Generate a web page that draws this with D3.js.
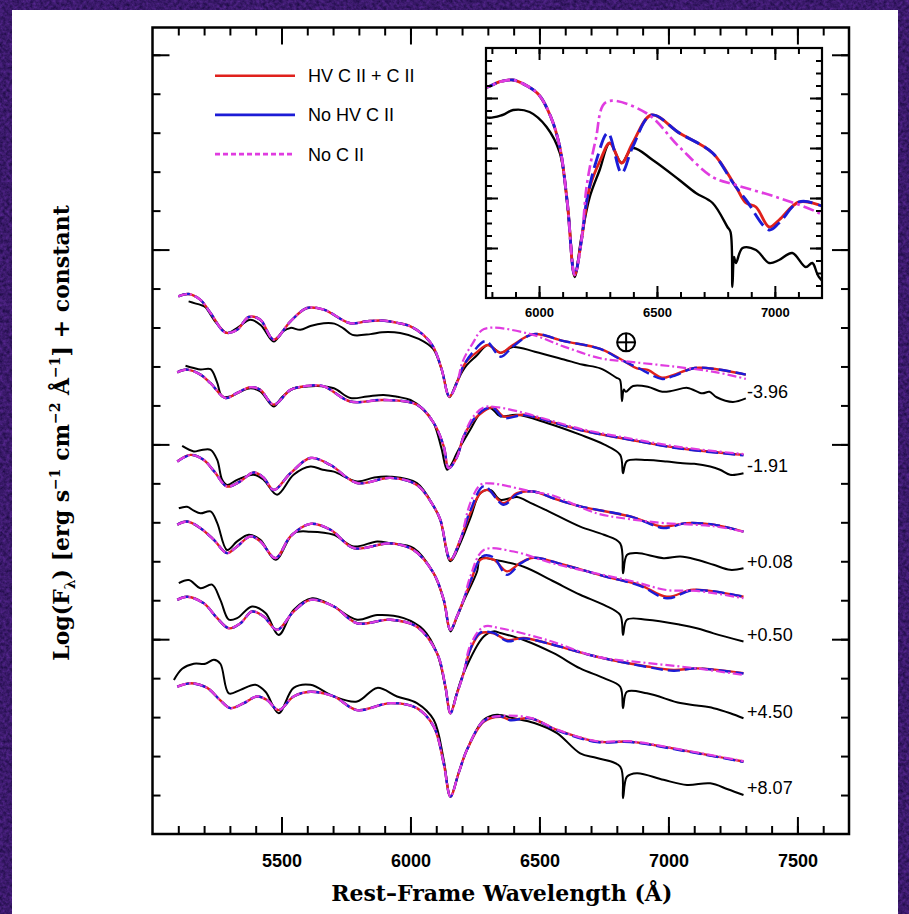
<!DOCTYPE html>
<html>
<head>
<meta charset="utf-8">
<script src="https://cdn.jsdelivr.net/npm/d3@7"></script>
<style>
  html, body { margin: 0; padding: 0; background: #3a1c6c; overflow: hidden; }
  svg { display: block; }
</style>
</head>
<body>
<svg id="fig" width="909" height="914"></svg>
<script>
// ---- Spectra: [rest wavelength (Å), log F + constant] ----
// Phase -3.96 d
const obsA = [[5140,1.367],[5165,1.362],[5186,1.358],[5205,1.352],[5240,1.318],[5289,1.286],[5330,1.300],[5380,1.320],[5420,1.306],[5470,1.264],[5505,1.290],[5535,1.299],[5573,1.294],[5612,1.304],[5664,1.311],[5705,1.310],[5740,1.298],[5775,1.281],[5845,1.283],[5890,1.288],[5960,1.286],[6032,1.271],[6088,1.245],[6124,1.185],[6151,1.121],[6180,1.161],[6215,1.201],[6257,1.228],[6300,1.255],[6350,1.235],[6397,1.250],[6482,1.238],[6595,1.218],[6665,1.205],[6736,1.195],[6799,1.171],[6812,1.166],[6820,1.111],[6827,1.141],[6835,1.135],[6863,1.150],[6920,1.148],[6976,1.135],[7018,1.138],[7074,1.145],[7131,1.131],[7159,1.135],[7187,1.121],[7250,1.109],[7300,1.118]];
const coreA = [[5100,1.380],[5140,1.386],[5186,1.371],[5225,1.337],[5283,1.287],[5328,1.294],[5373,1.327],[5418,1.320],[5470,1.269],[5535,1.316],[5599,1.350],[5664,1.346],[5767,1.311],[5830,1.316],[5889,1.318],[5950,1.312],[6000,1.303],[6050,1.281],[6088,1.251],[6120,1.195],[6151,1.123],[6180,1.158]];
const hvA = [[6202,1.195],[6215,1.211],[6260,1.238],[6300,1.255],[6350,1.235],[6397,1.255],[6477,1.283],[6595,1.265],[6736,1.245],[6835,1.211],[6878,1.195],[6920,1.191],[6976,1.171],[7018,1.178],[7102,1.196],[7187,1.193],[7300,1.179]];
const noHvA = [[6202,1.197],[6240,1.235],[6292,1.265],[6350,1.225],[6397,1.251],[6477,1.283],[6595,1.265],[6736,1.245],[6820,1.216],[6878,1.198],[6976,1.168],[7018,1.175],[7102,1.196],[7187,1.193],[7300,1.179]];
const noCA = [[6202,1.212],[6240,1.258],[6285,1.296],[6454,1.285],[6595,1.251],[6736,1.221],[6835,1.213],[7018,1.200],[7187,1.185],[7300,1.168]];

// Phase -1.91 d
const obsB = [[5128,1.202],[5160,1.196],[5186,1.192],[5225,1.193],[5250,1.160],[5270,1.123],[5302,1.123],[5340,1.135],[5380,1.144],[5418,1.136],[5470,1.097],[5500,1.120],[5547,1.144],[5590,1.148],[5638,1.150],[5703,1.144],[5767,1.119],[5832,1.123],[5896,1.127],[5950,1.122],[6000,1.114],[6050,1.090],[6090,1.055],[6120,0.990],[6142,0.935],[6160,0.950],[6180,0.978],[6232,1.038],[6271,1.080],[6310,1.093],[6348,1.072],[6413,1.076],[6529,1.055],[6658,1.025],[6750,1.000],[6813,0.973],[6824,0.926],[6839,0.957],[6917,0.960],[6994,0.956],[7046,0.952],[7100,0.950],[7162,0.943],[7200,0.935],[7239,0.922],[7291,0.926]];
const coreB = [[5096,1.185],[5134,1.192],[5186,1.179],[5225,1.157],[5283,1.119],[5328,1.132],[5380,1.147],[5418,1.140],[5470,1.102],[5535,1.140],[5599,1.150],[5664,1.149],[5767,1.110],[5896,1.114],[6025,1.102],[6090,1.055],[6129,0.995],[6148,0.939],[6180,0.967],[6206,1.020]];
const hvB = [[6240,1.058],[6284,1.085],[6322,1.095],[6361,1.072],[6439,1.076],[6550,1.057],[6658,1.037],[6852,1.012],[7046,0.990],[7291,0.973]];
const noHvB = [[6240,1.060],[6290,1.091],[6322,1.093],[6361,1.068],[6439,1.075],[6550,1.057],[6658,1.037],[6852,1.012],[7046,0.989],[7291,0.972]];
const noCB = [[6240,1.068],[6284,1.095],[6330,1.096],[6439,1.081],[6550,1.060],[6658,1.040],[6852,1.015],[7046,0.993],[7291,0.975]];

// Phase +0.08 d
const obsC = [[5115,0.996],[5160,0.982],[5186,0.985],[5225,0.986],[5251,0.960],[5270,0.909],[5289,0.896],[5328,0.909],[5392,0.922],[5431,0.909],[5483,0.871],[5547,0.922],[5612,0.943],[5660,0.935],[5703,0.930],[5793,0.905],[5860,0.915],[5922,0.917],[6025,0.901],[6090,0.841],[6116,0.806],[6155,0.700],[6193,0.746],[6232,0.811],[6271,0.875],[6310,0.883],[6348,0.858],[6413,0.865],[6465,0.850],[6530,0.830],[6658,0.789],[6750,0.768],[6813,0.746],[6824,0.669],[6839,0.716],[6878,0.721],[6981,0.708],[7046,0.712],[7110,0.704],[7175,0.691],[7239,0.678],[7291,0.682]];
const coreC = [[5096,0.956],[5147,0.973],[5199,0.960],[5240,0.930],[5289,0.892],[5340,0.905],[5392,0.928],[5430,0.915],[5470,0.883],[5535,0.926],[5612,0.965],[5690,0.947],[5793,0.901],[5922,0.914],[6025,0.896],[6090,0.841],[6116,0.806],[6155,0.704],[6193,0.755]];
const hvC = [[6232,0.823],[6271,0.875],[6300,0.883],[6361,0.849],[6413,0.875],[6477,0.879],[6560,0.860],[6658,0.841],[6852,0.815],[6940,0.795],[6981,0.789],[7072,0.798],[7175,0.794],[7291,0.776]];
const noHvC = [[6232,0.830],[6285,0.893],[6361,0.845],[6413,0.872],[6477,0.879],[6560,0.860],[6658,0.841],[6852,0.815],[6940,0.793],[6981,0.785],[7072,0.798],[7175,0.794],[7291,0.776]];
const noCC = [[6232,0.850],[6271,0.896],[6310,0.900],[6477,0.878],[6546,0.870],[6723,0.823],[6852,0.808],[6981,0.798],[7175,0.790],[7291,0.776]];

// Phase +0.50 d
const obsD = [[5102,0.836],[5134,0.840],[5160,0.830],[5186,0.823],[5225,0.828],[5251,0.798],[5289,0.729],[5328,0.751],[5373,0.768],[5418,0.755],[5477,0.704],[5547,0.772],[5612,0.776],[5703,0.768],[5780,0.738],[5871,0.751],[5922,0.746],[6012,0.734],[6090,0.669],[6129,0.600],[6155,0.520],[6180,0.556],[6206,0.597],[6258,0.673],[6271,0.708],[6322,0.704],[6439,0.686],[6550,0.650],[6658,0.614],[6750,0.588],[6813,0.562],[6824,0.511],[6839,0.550],[6917,0.550],[7046,0.537],[7110,0.528],[7175,0.515],[7291,0.494]];
const coreD = [[5096,0.794],[5134,0.802],[5186,0.785],[5238,0.755],[5289,0.721],[5328,0.738],[5380,0.764],[5418,0.751],[5477,0.708],[5535,0.764],[5612,0.796],[5690,0.781],[5780,0.734],[5922,0.746],[6012,0.729],[6090,0.669],[6129,0.601],[6155,0.524],[6180,0.558],[6206,0.601]];
const hvD = [[6232,0.644],[6271,0.704],[6322,0.704],[6374,0.674],[6426,0.696],[6477,0.709],[6594,0.691],[6750,0.662],[6890,0.639],[6994,0.609],[7097,0.627],[7291,0.609]];
const noHvD = [[6232,0.648],[6280,0.713],[6322,0.710],[6374,0.665],[6426,0.694],[6477,0.709],[6594,0.691],[6750,0.662],[6890,0.637],[6994,0.605],[7097,0.626],[7291,0.609]];
const noCD = [[6232,0.661],[6284,0.729],[6400,0.725],[6550,0.695],[6684,0.674],[6865,0.648],[6994,0.626],[7110,0.624],[7291,0.605]];

// Phase +4.50 d
const obsE = [[5102,0.644],[5141,0.652],[5186,0.631],[5231,0.640],[5263,0.601],[5296,0.550],[5328,0.554],[5386,0.584],[5438,0.567],[5489,0.511],[5547,0.575],[5619,0.605],[5660,0.598],[5703,0.584],[5793,0.550],[5871,0.562],[5974,0.554],[6051,0.524],[6103,0.464],[6135,0.378],[6155,0.310],[6180,0.362],[6206,0.413],[6284,0.507],[6322,0.520],[6348,0.516],[6439,0.498],[6555,0.464],[6658,0.425],[6750,0.400],[6813,0.378],[6824,0.323],[6839,0.365],[6917,0.361],[7046,0.336],[7110,0.330],[7175,0.323],[7240,0.310],[7291,0.297]];
const coreE = [[5096,0.601],[5134,0.609],[5199,0.592],[5251,0.554],[5296,0.528],[5341,0.541],[5386,0.571],[5431,0.558],[5483,0.524],[5547,0.571],[5612,0.601],[5703,0.584],[5793,0.541],[5922,0.550],[6025,0.532],[6103,0.464],[6135,0.380],[6155,0.310],[6180,0.360],[6206,0.413]];
const hvE = [[6232,0.473],[6271,0.515],[6322,0.515],[6374,0.498],[6439,0.503],[6529,0.490],[6723,0.455],[6917,0.430],[7020,0.421],[7110,0.425],[7291,0.413]];
const noHvE = [[6232,0.475],[6271,0.517],[6322,0.516],[6374,0.495],[6439,0.502],[6529,0.490],[6723,0.455],[6917,0.429],[7020,0.419],[7110,0.425],[7291,0.412]];
const noCE = [[6232,0.485],[6284,0.532],[6348,0.528],[6529,0.498],[6723,0.455],[6917,0.439],[7110,0.425],[7291,0.408]];

// Phase +8.07 d
const obsF = [[5083,0.395],[5115,0.424],[5160,0.437],[5205,0.437],[5238,0.447],[5263,0.437],[5296,0.361],[5341,0.370],[5399,0.383],[5438,0.365],[5489,0.310],[5547,0.375],[5612,0.383],[5703,0.353],[5793,0.340],[5871,0.375],[5948,0.353],[6025,0.336],[6090,0.293],[6129,0.190],[6155,0.096],[6187,0.157],[6219,0.216],[6284,0.293],[6335,0.306],[6400,0.297],[6480,0.285],[6568,0.259],[6658,0.207],[6723,0.195],[6813,0.173],[6824,0.092],[6839,0.147],[6878,0.156],[6981,0.139],[7072,0.126],[7162,0.130],[7230,0.115],[7291,0.100]];
const coreF = [[5096,0.378],[5147,0.387],[5212,0.375],[5260,0.345],[5302,0.323],[5354,0.336],[5405,0.353],[5444,0.344],[5489,0.318],[5547,0.353],[5612,0.365],[5703,0.353],[5793,0.318],[5922,0.336],[6025,0.323],[6090,0.276],[6129,0.181],[6155,0.096],[6187,0.157],[6219,0.216]];
const hvF = [[6284,0.288],[6348,0.301],[6387,0.293],[6465,0.297],[6568,0.267],[6723,0.237],[6852,0.237],[7046,0.216],[7291,0.186]];
const noHvF = [[6284,0.290],[6348,0.302],[6387,0.292],[6465,0.297],[6568,0.266],[6723,0.236],[6852,0.236],[7046,0.215],[7291,0.185]];
const noCF = [[6284,0.291],[6348,0.303],[6465,0.298],[6568,0.268],[6723,0.238],[6852,0.238],[7046,0.217],[7291,0.187]];

const phaseLabels = ["-3.96", "-1.91", "+0.08", "+0.50", "+4.50", "+8.07"];
const legendLabels = ["HV C II + C II", "No HV C II", "No C II"];
const xTickLabels = [5500, 6000, 6500, 7000, 7500];
const insetTickLabels = [6000, 6500, 7000];
const telluricWave = 6836;     // ⊕ marker position
const telluricLevel = 1.262;

// ---- assemble series ----
const observed = [obsA, obsB, obsC, obsD, obsE, obsF];
const cores = [coreA, coreB, coreC, coreD, coreE, coreF];
const modelHv = [hvA, hvB, hvC, hvD, hvE, hvF].map((t, i) => cores[i].concat(t));
const modelNoHv = [noHvA, noHvB, noHvC, noHvD, noHvE, noHvF].map((t, i) => cores[i].concat(t));
const modelNoC = [noCA, noCB, noCC, noCD, noCE, noCF].map((t, i) => cores[i].concat(t));

const styles = {
  obs:  { color: "#000000", width: 2.0, dash: null },
  hv:   { color: "#e0211c", width: 2.4, dash: null },
  nohv: { color: "#1c1cd6", width: 2.4, dash: "12,5" },
  noc:  { color: "#e03ce0", width: 2.2, dash: "9,3,2,3" }
};

const svg = d3.select("#fig");

// ---- background: mottled purple border and white page ----
const defs = svg.append("defs");
const f = defs.append("filter").attr("id", "grain").attr("x", 0).attr("y", 0).attr("width", 1).attr("height", 1)
  .attr("color-interpolation-filters", "sRGB");
f.append("feTurbulence").attr("type", "fractalNoise").attr("baseFrequency", 0.3).attr("numOctaves", 3).attr("seed", 7);
f.append("feColorMatrix").attr("type", "matrix")
  .attr("values", "0.30 0 0 0 0.08  0.14 0 0 0 0.03  0.40 0 0 0 0.22  0 0 0 0 1");
svg.append("rect").attr("width", 909).attr("height", 914).attr("fill", "#3a1c6c");
svg.append("rect").attr("width", 909).attr("height", 914).attr("filter", "url(#grain)");
svg.append("rect").attr("x", 12).attr("y", 10).attr("width", 886).attr("height", 904).attr("fill", "#ffffff");

// ---- main panel ----
const P = { l: 152.5, r: 849, t: 27.5, b: 834 };
const x = d3.scaleLinear().domain([5000, 7700]).range([P.l, P.r]);
const y = d3.scaleLinear().domain([0, 2.07]).range([P.b, P.t]);

function drawSeries(g, data, st, xs, ys, wScale) {
  const gen = d3.line().x(d => xs(d[0])).y(d => ys(d[1])).curve(d3.curveCatmullRom.alpha(0.5));
  g.append("path").datum(data)
    .attr("d", gen)
    .attr("fill", "none")
    .attr("stroke", st.color)
    .attr("stroke-width", st.width * (wScale || 1))
    .attr("stroke-linejoin", "round")
    .attr("stroke-dasharray", st.dash);
}

const gMain = svg.append("g");
observed.forEach(s => drawSeries(gMain, s, styles.obs, x, y));
modelHv.forEach(s => drawSeries(gMain, s, styles.hv, x, y));
modelNoHv.forEach(s => drawSeries(gMain, s, styles.nohv, x, y));
modelNoC.forEach(s => drawSeries(gMain, s, styles.noc, x, y));

// phase labels at the red end of each observed spectrum
observed.forEach((s, i) => {
  const last = s[s.length - 1];
  svg.append("text")
    .attr("x", x(7305)).attr("y", y(last[1]) - 5.5)
    .attr("dominant-baseline", "middle")
    .attr("font-family", "Liberation Sans, Arial, sans-serif")
    .attr("font-size", 18)
    .text(phaseLabels[i]);
});

// telluric marker ⊕
const tg = svg.append("g").attr("transform", `translate(${x(telluricWave)},${y(telluricLevel)})`)
  .attr("stroke", "#000").attr("stroke-width", 2).attr("fill", "none");
tg.append("circle").attr("r", 9);
tg.append("line").attr("x1", -9).attr("x2", 9);
tg.append("line").attr("y1", -9).attr("y2", 9);

// ---- axes (ticks inward on all four sides) ----
function styleAxis(g) {
  g.select(".domain").remove();
  g.selectAll(".tick line").attr("stroke", "#000").attr("stroke-width", 2);
  g.selectAll(".tick text").attr("fill", "#000");
}
const minorX = d3.range(5100, 7700, 100);
const minorY = d3.range(1, 21).map(d => d / 10);
const majorY = [0.5, 1.0, 1.5, 2.0];

svg.append("g").attr("transform", `translate(0,${P.b})`)
  .call(d3.axisBottom(x).tickValues(minorX).tickSize(-8).tickFormat("")).call(styleAxis);
svg.append("g").attr("transform", `translate(0,${P.b})`)
  .call(d3.axisBottom(x).tickValues(xTickLabels).tickSize(-17).tickPadding(20).tickFormat(d3.format("d")))
  .call(styleAxis)
  .selectAll("text").attr("font-family", "Liberation Sans, Arial, sans-serif")
  .attr("font-weight", "bold").attr("font-size", 18);
svg.append("g").attr("transform", `translate(0,${P.t})`)
  .call(d3.axisTop(x).tickValues(minorX).tickSize(-8).tickFormat("")).call(styleAxis);
svg.append("g").attr("transform", `translate(0,${P.t})`)
  .call(d3.axisTop(x).tickValues(xTickLabels).tickSize(-17).tickFormat("")).call(styleAxis);
svg.append("g").attr("transform", `translate(${P.l},0)`)
  .call(d3.axisLeft(y).tickValues(minorY).tickSize(-8).tickFormat("")).call(styleAxis);
svg.append("g").attr("transform", `translate(${P.l},0)`)
  .call(d3.axisLeft(y).tickValues(majorY).tickSize(-17).tickFormat("")).call(styleAxis);
svg.append("g").attr("transform", `translate(${P.r},0)`)
  .call(d3.axisRight(y).tickValues(minorY).tickSize(-8).tickFormat("")).call(styleAxis);
svg.append("g").attr("transform", `translate(${P.r},0)`)
  .call(d3.axisRight(y).tickValues(majorY).tickSize(-17).tickFormat("")).call(styleAxis);

svg.append("rect").attr("x", P.l).attr("y", P.t).attr("width", P.r - P.l).attr("height", P.b - P.t)
  .attr("fill", "none").attr("stroke", "#000").attr("stroke-width", 2.5);

// ---- axis titles ----
svg.append("text")
  .attr("x", (P.l + P.r) / 2 + 1).attr("y", 901)
  .attr("text-anchor", "middle")
  .attr("font-family", "DejaVu Serif, serif").attr("font-weight", "bold").attr("font-size", 22)
  .text("Rest\u2013Frame Wavelength (\u00c5)");

const yTitle = svg.append("text")
  .attr("transform", "translate(69,433) rotate(-90)")
  .attr("text-anchor", "middle")
  .attr("font-family", "DejaVu Serif, serif").attr("font-weight", "bold").attr("font-size", 22);
const ySegs = [
  { t: "Log(F" }, { t: "\u03bb", s: 6 }, { t: ") [erg s" }, { t: "\u22121", s: -9 },
  { t: " cm" }, { t: "\u22122", s: -9 }, { t: " \u00c5" }, { t: "\u22121", s: -9 }, { t: "] + constant" }
];
let shift = 0;
ySegs.forEach(seg => {
  const s = seg.s || 0;
  yTitle.append("tspan").attr("dy", s - shift).attr("font-size", s ? 14 : 22).text(seg.t);
  shift = s;
});

// ---- legend ----
const legendStyles = [styles.hv, { color: styles.nohv.color, dash: null }, { color: styles.noc.color, dash: "5,3" }];
legendLabels.forEach((lab, i) => {
  const ly = 75.7 + i * 39.2;
  svg.append("line").attr("x1", 215).attr("x2", 295).attr("y1", ly).attr("y2", ly)
    .attr("stroke", legendStyles[i].color).attr("stroke-width", 2.6)
    .attr("stroke-dasharray", legendStyles[i].dash);
  svg.append("text").attr("x", 308).attr("y", ly + 6.5)
    .attr("font-family", "Liberation Sans, Arial, sans-serif").attr("font-size", 18)
    .text(lab);
});

// ---- inset: C II region of the earliest spectrum ----
const I = { l: 486, r: 822, t: 48, b: 298 };
const xi = d3.scaleLinear().domain([5775, 7200]).range([I.l, I.r]);
const yi = d3.scaleLinear().domain([1.10, 1.35]).range([I.b, I.t]);

svg.append("rect").attr("x", I.l).attr("y", I.t).attr("width", I.r - I.l).attr("height", I.b - I.t)
  .attr("fill", "#fff");
defs.append("clipPath").attr("id", "insetClip").append("rect")
  .attr("x", I.l).attr("y", I.t).attr("width", I.r - I.l).attr("height", I.b - I.t);
const gIn = svg.append("g").attr("clip-path", "url(#insetClip)");
drawSeries(gIn, observed[0], styles.obs, xi, yi, 1.2);
drawSeries(gIn, modelHv[0], styles.hv, xi, yi, 1.2);
drawSeries(gIn, modelNoHv[0], { color: styles.nohv.color, width: 2.4, dash: "15,6" }, xi, yi, 1.2);
drawSeries(gIn, modelNoC[0], { color: styles.noc.color, width: 2.2, dash: "11,4,3,4" }, xi, yi, 1.2);

const minorXi = d3.range(5800, 7200, 100);
const minorYi = d3.range(1, 20).map(d => 1.10 + d * 0.0125);
const majorYi = [1.15, 1.20, 1.25, 1.30];
svg.append("g").attr("transform", `translate(0,${I.b})`)
  .call(d3.axisBottom(xi).tickValues(minorXi).tickSize(-6).tickFormat("")).call(styleAxis);
svg.append("g").attr("transform", `translate(0,${I.b})`)
  .call(d3.axisBottom(xi).tickValues(insetTickLabels).tickSize(-12).tickPadding(10).tickFormat(d3.format("d")))
  .call(styleAxis)
  .selectAll("text").attr("font-family", "Liberation Sans, Arial, sans-serif")
  .attr("font-weight", "bold").attr("font-size", 13);
svg.append("g").attr("transform", `translate(0,${I.t})`)
  .call(d3.axisTop(xi).tickValues(minorXi).tickSize(-6).tickFormat("")).call(styleAxis);
svg.append("g").attr("transform", `translate(0,${I.t})`)
  .call(d3.axisTop(xi).tickValues(insetTickLabels).tickSize(-12).tickFormat("")).call(styleAxis);
svg.append("g").attr("transform", `translate(${I.l},0)`)
  .call(d3.axisLeft(yi).tickValues(minorYi).tickSize(-6).tickFormat("")).call(styleAxis);
svg.append("g").attr("transform", `translate(${I.l},0)`)
  .call(d3.axisLeft(yi).tickValues(majorYi).tickSize(-12).tickFormat("")).call(styleAxis);
svg.append("g").attr("transform", `translate(${I.r},0)`)
  .call(d3.axisRight(yi).tickValues(minorYi).tickSize(-6).tickFormat("")).call(styleAxis);
svg.append("g").attr("transform", `translate(${I.r},0)`)
  .call(d3.axisRight(yi).tickValues(majorYi).tickSize(-12).tickFormat("")).call(styleAxis);
svg.append("rect").attr("x", I.l).attr("y", I.t).attr("width", I.r - I.l).attr("height", I.b - I.t)
  .attr("fill", "none").attr("stroke", "#000").attr("stroke-width", 2.2);
</script>
</body>
</html>
